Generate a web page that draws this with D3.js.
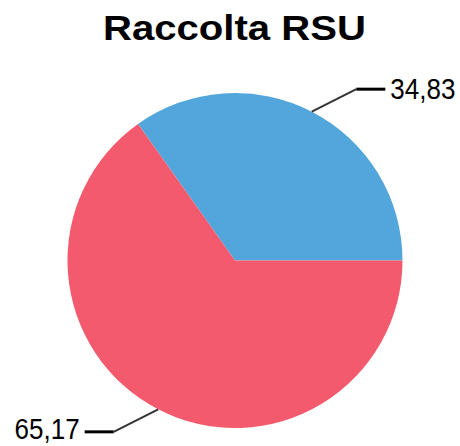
<!DOCTYPE html>
<html><head><meta charset="utf-8">
<script src="https://cdn.jsdelivr.net/npm/d3@7"></script>
<style>html,body{margin:0;padding:0;background:#fff;}svg{display:block;}</style>
</head><body>
<svg id="c" width="460" height="446"></svg>
<script>
const title = "Raccolta RSU";
const categories = ["Differenziata", "Indifferenziata"];
const values = [34.83, 65.17];
const colors = ["#52A6DB", "#F45A6D"];

const svg = d3.select("#c");
const cx = 235, cy = 260.5, r = 167.5;
const fmt = v => d3.format(".2f")(v).replace(".", ",");

svg.append("text").attr("x", 234.5).attr("y", 40).attr("text-anchor", "middle")
  .attr("font-family", "Liberation Sans, Arial, sans-serif").attr("font-weight", "bold")
  .attr("font-size", 35).attr("textLength", 263).attr("lengthAdjust", "spacingAndGlyphs")
  .attr("fill", "#000").text(title);

const pie = d3.pie().sort(null).startAngle(Math.PI / 2).endAngle(Math.PI / 2 - 2 * Math.PI);
const arcs = pie(values);
const arc = d3.arc().innerRadius(0).outerRadius(r);
const g = svg.append("g").attr("transform", `translate(${cx},${cy})`);
g.selectAll("path").data(arcs).join("path").attr("d", arc).attr("fill", (d, i) => colors[i]);

arcs.forEach((d, i) => {
  const a = (d.startAngle + d.endAngle) / 2;
  const sx = r * Math.sin(a), sy = -r * Math.cos(a);
  const side = sx >= 0 ? 1 : -1;
  const kx = sx + side * 44.5, ky = sy - side * 22.5;
  const ex = kx + side * 29;
  g.append("line").attr("x1", sx).attr("y1", sy).attr("x2", kx).attr("y2", ky)
    .attr("stroke", "#333").attr("stroke-width", 2);
  g.append("line").attr("x1", kx).attr("y1", ky).attr("x2", ex).attr("y2", ky)
    .attr("stroke", "#000").attr("stroke-width", 3);
  g.append("g").attr("transform", `translate(${ex + side * 5},${ky + (side > 0 ? 9.5 : 7.5)}) scale(1,1.12)`)
    .append("text").attr("x", 0).attr("y", 0)
    .attr("text-anchor", side > 0 ? "start" : "end")
    .attr("font-family", "Liberation Sans, Arial, sans-serif").attr("font-size", 26)
    .attr("fill", "#000").text(fmt(values[i]));
});
</script>
</body></html>
